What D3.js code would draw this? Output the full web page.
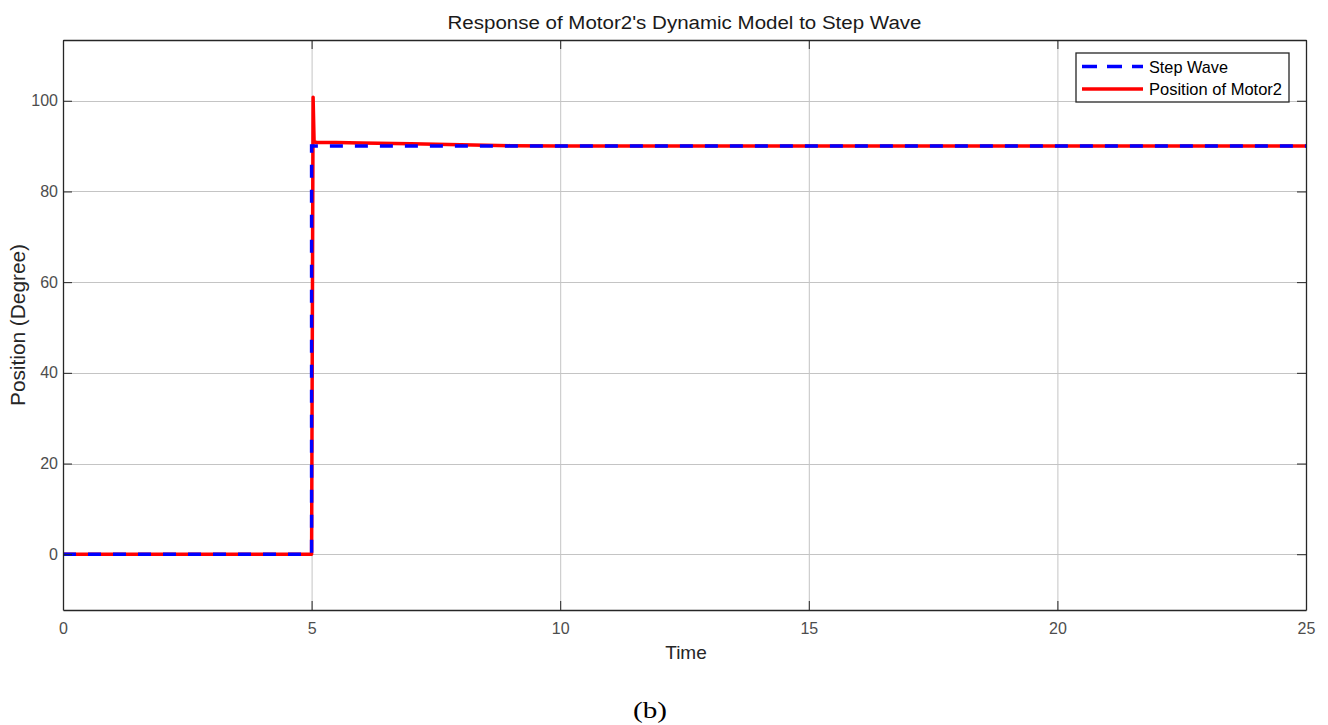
<!DOCTYPE html>
<html lang="en">
<head>
    <meta charset="UTF-8">
    <title>Motor2 step response</title>
    <script src="https://cdn.jsdelivr.net/npm/d3@7/dist/d3.min.js"></script>
    <style>
        body { margin: 0; background: #fff; }
        text { font-family: "Liberation Sans", Arial, sans-serif; }
    </style>
</head>
<body>
<svg width="1328" height="725" id="main"></svg>
<script>

    // step input
    const stepTime = [0, 5, 5, 25];
    const stepValue = [0, 0, 90, 90];

    // motor position
    const motorTime = [0, 5, 5.03, 5.05, 5.1, 5.5, 6, 7, 8, 9, 10, 12, 25];
    const motorValue = [0, 0, 100.8, 91, 90.8, 90.8, 90.7, 90.5, 90.3, 90.1, 90.02, 90, 90];

    const xTicks = [0, 5, 10, 15, 20, 25];
    const yTicks = [0, 20, 40, 60, 80, 100];
    const seriesNames = ["Step Wave", "Position of Motor2"];

    draw();

    function draw() {
        let margin = {top: 40, right: 22, bottom: 115, left: 63};
        let width = 1328, height = 725;
        let svg = d3.select('#main');

        let x = d3.scaleLinear()
            .domain([0, 25])
            .range([margin.left, width - margin.right]);
        let y = d3.scaleLinear()
            .domain([-12.3, 113.4])
            .range([height - margin.bottom, margin.top]);

        svg.append("rect").attr("width", width).attr("height", height).attr("fill", "#fff");

        // grid
        svg.append("g")
            .attr("stroke", "#c4c4c4")
            .attr("stroke-width", 1)
            .call(g => g.selectAll(".gx").data(xTicks.slice(1, -1)).join("line")
                .attr("x1", d => x(d) + 0.5).attr("x2", d => x(d) + 0.5)
                .attr("y1", margin.top).attr("y2", height - margin.bottom))
            .call(g => g.selectAll(".gy").data(yTicks).join("line")
                .attr("class", "gy")
                .attr("x1", margin.left).attr("x2", width - margin.right)
                .attr("y1", d => Math.round(y(d)) + 0.5).attr("y2", d => Math.round(y(d)) + 0.5));

        // axes (matlab style: ticks inward on all sides)
        const axisColor = "#262626";
        let xAxis = g => g
            .attr("transform", `translate(0,${height - margin.bottom})`)
            .call(d3.axisBottom(x).tickValues(xTicks).tickSizeInner(-9).tickSizeOuter(0).tickPadding(13))
            .call(g => g.select(".domain").attr("stroke", axisColor).attr("stroke-width", 1.3))
            .call(g => g.selectAll(".tick line").attr("stroke", axisColor))
            .call(g => g.selectAll(".tick text").attr("fill", "#4d4d4d")
                .attr("font-size", 16).attr("font-family", "Liberation Sans, Arial, sans-serif"));
        let xAxisTop = g => g
            .attr("transform", `translate(0,${margin.top})`)
            .call(d3.axisTop(x).tickValues(xTicks).tickSizeInner(-9).tickSizeOuter(0).tickFormat(""))
            .call(g => g.select(".domain").attr("stroke", axisColor).attr("stroke-width", 1.3))
            .call(g => g.selectAll(".tick line").attr("stroke", axisColor));
        let yAxis = g => g
            .attr("transform", `translate(${margin.left},0)`)
            .call(d3.axisLeft(y).tickValues(yTicks).tickSizeInner(-9).tickSizeOuter(0).tickPadding(5))
            .call(g => g.select(".domain").attr("stroke", axisColor).attr("stroke-width", 1.3))
            .call(g => g.selectAll(".tick line").attr("stroke", axisColor))
            .call(g => g.selectAll(".tick text").attr("fill", "#4d4d4d")
                .attr("font-size", 16).attr("font-family", "Liberation Sans, Arial, sans-serif"));
        let yAxisRight = g => g
            .attr("transform", `translate(${width - margin.right},0)`)
            .call(d3.axisRight(y).tickValues(yTicks).tickSizeInner(-9).tickSizeOuter(0).tickFormat(""))
            .call(g => g.select(".domain").attr("stroke", axisColor).attr("stroke-width", 1.3))
            .call(g => g.selectAll(".tick line").attr("stroke", axisColor));

        // lines
        let line = d3.line().x(d => x(d[0])).y(d => y(d[1]));
        let motor = motorTime.map((t, i) => [t, motorValue[i]]);
        let step = stepTime.map((t, i) => [t, stepValue[i]]);

        let plot = svg.append("g");
        plot.append("path").datum(motor)
            .attr("d", line)
            .attr("fill", "none")
            .attr("stroke", "#ff0000")
            .attr("stroke-width", 3.5)
            .attr("stroke-linejoin", "round");
        plot.append("path").datum(step)
            .attr("d", line)
            .attr("fill", "none")
            .attr("stroke", "#0000ff")
            .attr("stroke-width", 3.5)
            .attr("stroke-dasharray", "13,12");

        svg.append("g").call(xAxis);
        svg.append("g").call(xAxisTop);
        svg.append("g").call(yAxis);
        svg.append("g").call(yAxisRight);

        // title and labels
        svg.append("text")
            .attr("x", (margin.left + width - margin.right) / 2)
            .attr("y", 29)
            .attr("text-anchor", "middle")
            .attr("font-size", 18)
            .attr("textLength", 474)
            .attr("lengthAdjust", "spacingAndGlyphs")
            .attr("fill", "#1a1a1a")
            .text("Response of Motor2's Dynamic Model to Step Wave");
        svg.append("text")
            .attr("x", 686)
            .attr("y", 659)
            .attr("text-anchor", "middle")
            .attr("font-size", 19)
            .attr("fill", "#262626")
            .text("Time");
        svg.append("text")
            .attr("transform", `translate(25,${(margin.top + height - margin.bottom) / 2}) rotate(-90)`)
            .attr("text-anchor", "middle")
            .attr("font-size", 20)
            .attr("textLength", 162)
            .attr("lengthAdjust", "spacingAndGlyphs")
            .attr("fill", "#262626")
            .text("Position (Degree)");
        svg.append("text")
            .attr("x", 650)
            .attr("y", 718)
            .attr("text-anchor", "middle")
            .attr("font-size", 24)
            .attr("textLength", 34)
            .attr("lengthAdjust", "spacingAndGlyphs")
            .style("font-family", "'Liberation Serif', 'Times New Roman', serif")
            .attr("fill", "#000")
            .text("(b)");

        // legend
        let legend = svg.append("g").attr("transform", "translate(1076,53)");
        legend.append("rect")
            .attr("width", 213).attr("height", 49)
            .attr("fill", "#fff").attr("stroke", axisColor).attr("stroke-width", 1.3);
        let styles = [
            {color: "#0000ff", dash: "15,10", len: 79},
            {color: "#ff0000", dash: null, len: 133}
        ];
        seriesNames.forEach((name, i) => {
            let yy = 13.5 + i * 22.5;
            legend.append("line")
                .attr("x1", 6).attr("x2", 67)
                .attr("y1", yy).attr("y2", yy)
                .attr("stroke", styles[i].color)
                .attr("stroke-width", 3.5)
                .attr("stroke-dasharray", styles[i].dash);
            legend.append("text")
                .attr("x", 73).attr("y", yy + 6)
                .attr("font-size", 17)
                .attr("textLength", styles[i].len)
                .attr("lengthAdjust", "spacingAndGlyphs")
                .attr("fill", "#000")
                .text(name);
        });
    }
</script>
</body>
</html>
